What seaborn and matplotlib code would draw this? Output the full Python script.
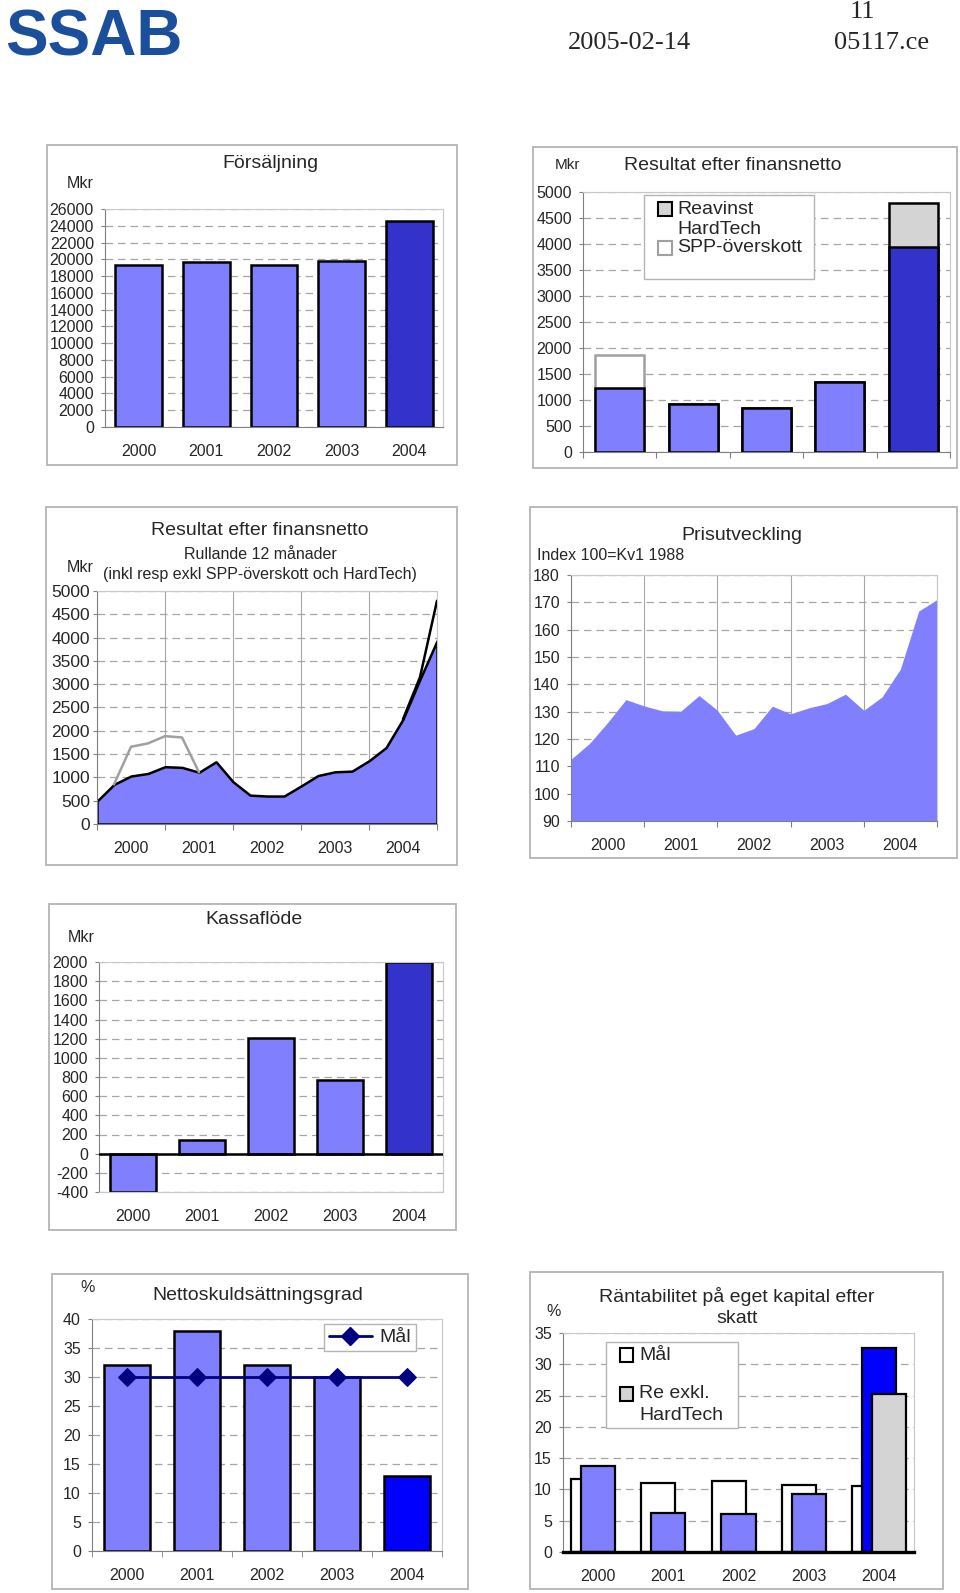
import numpy as np
import pandas as pd
import seaborn as sns
import matplotlib.pyplot as plt
from matplotlib.patches import Rectangle
from matplotlib.lines import Line2D

sns.set_style('white')
plt.rcParams['font.family'] = ['Liberation Sans', 'DejaVu Sans']
plt.rcParams['axes.unicode_minus'] = False

# data
years = ['2000', '2001', '2002', '2003', '2004']
sales = [19300, 19700, 19300, 19800, 24600]
res_base = [1230, 930, 840, 1350, 3950]
res_spp = [640, 0, 0, 0, 0]
res_hardtech = [0, 0, 0, 0, 830]

quarters = list(range(21))
roll_excl = [490, 850, 1030, 1085, 1230, 1215, 1110, 1335, 907, 620, 600,
             600, 815, 1040, 1120, 1135, 1357, 1640, 2250, 3107, 3930]
roll_incl = [490, 850, 1657, 1730, 1885, 1857, 1110, 1335, 907, 620, 600,
             600, 815, 1040, 1120, 1135, 1357, 1640, 2250, 3150, 4790]
price_index = [112.6, 118.3, 126.0, 134.4, 132.1, 130.3, 130.2, 135.9, 130.5,
               121.4, 123.8, 132.0, 129.2, 131.4, 133.0, 136.4, 130.5, 135.4,
               145.6, 166.8, 171.0]

cashflow = [-400, 145, 1210, 770, 2000]
gearing = [32, 38, 32, 30, 13]
gearing_target = [30, 30, 30, 30, 30]
roe_target = [11.6, 11.1, 11.3, 10.7, 10.5]
roe = [13.7, 6.3, 6.0, 9.2, 32.6]
roe_excl_ht_2004 = 25.3

LIGHT = '#8080ff'
DARK = '#3333cc'
BLUE = '#0000ff'
GREY = '#d4d4d4'
GRID = '#a6a6a6'

W, H = 960, 1593
fig = plt.figure(figsize=(W / 100, H / 100), dpi=100)


def add_ax(l, t, r, b):
    return fig.add_axes([l / W, 1 - b / H, (r - l) / W, (b - t) / H])


def ftext(x, y, s, size=14, ha='center', **kw):
    fig.text(x / W, 1 - y / H, s, fontsize=size, ha=ha, va='center', **kw)


def rect(l, t, r, b, fill=False, face='white', edge='#b4b4b4', lw=1.3, z=1):
    fig.add_artist(Rectangle((l / W, 1 - b / H), (r - l) / W, (b - t) / H,
                             transform=fig.transFigure, fill=fill, facecolor=face,
                             edgecolor=edge, lw=lw, zorder=z))


def style(ax, lo, hi, step, size=11.5, pad=5):
    ticks = np.arange(lo, hi + step / 2, step)
    ax.set_ylim(lo, hi)
    ax.set_yticks(ticks, labels=[str(int(t)) for t in ticks])
    ax.yaxis.grid(True, color=GRID, linestyle=(0, (6, 4)), linewidth=0.9)
    ax.set_axisbelow(True)
    for s in ['top', 'right']:
        ax.spines[s].set_color('#c8c8c8')
    for s in ['left', 'bottom']:
        ax.spines[s].set_color('#808080')
    ax.tick_params(axis='y', left=True, direction='out', length=3, width=0.8,
                   color='#808080', pad=pad, labelsize=size)
    ax.set_xlabel('')
    ax.set_ylabel('')


# header
ftext(5, 39, 'SSAB', size=46, ha='left', color='#1b4f9c', fontweight='bold')
ftext(629, 43, '2005-02-14', size=19, family=['Liberation Serif', 'DejaVu Serif'])
ftext(862, 12, '11', size=19, family=['Liberation Serif', 'DejaVu Serif'])
ftext(882, 43, '05117.ce', size=19, family=['Liberation Serif', 'DejaVu Serif'])

pal5 = [LIGHT] * 4 + [DARK]

# 1. Försäljning
rect(47, 145, 457, 465)
ax1 = add_ax(105, 209, 443, 427)
df1 = pd.DataFrame({'year': years, 'value': sales})
sns.barplot(data=df1, x='year', y='value', hue='year', palette=pal5, legend=False,
            width=0.69, saturation=1, edgecolor='black', linewidth=1.8, ax=ax1)
style(ax1, 0, 26000, 2000)
ax1.set_xlim(-0.5, 4.5)
ax1.tick_params(axis='x', length=0, pad=12, labelsize=11.5)
ftext(270, 163, 'Försäljning')
ftext(80, 183, 'Mkr', size=11.5)

# 2. Resultat efter finansnetto (bars)
rect(533, 147, 957, 468)
ax2 = add_ax(583, 192, 950, 452)
totals = [b + s + h for b, s, h in zip(res_base, res_spp, res_hardtech)]
sns.barplot(x=years, y=totals, color='white', width=0.67, saturation=1,
            edgecolor='black', linewidth=1.8, ax=ax2)
for p, s, h in zip(ax2.patches, res_spp, res_hardtech):
    if s > 0:
        p.set_facecolor('white')
        p.set_edgecolor('#a0a0a0')
    elif h > 0:
        p.set_facecolor(GREY)
sns.barplot(x=years, y=res_base, hue=years, palette=pal5, legend=False, width=0.67,
            saturation=1, edgecolor='black', linewidth=1.8, ax=ax2)
style(ax2, 0, 5000, 500)
ax2.set_xlim(-0.5, 4.5)
ax2.set_xticks(np.arange(-0.5, 5, 1), labels=[])
ax2.tick_params(axis='x', bottom=True, direction='out', length=4, color='#808080')
ftext(733, 165, 'Resultat efter finansnetto')
ftext(567, 165, 'Mkr', size=11)
# legend box, Excel style
rect(644, 195, 814, 279, fill=True, lw=1.0, z=5)
rect(658, 202, 672, 216, fill=True, face=GREY, edge='black', lw=1.5, z=6)
rect(658, 241, 672, 255, fill=True, face='white', edge='#a0a0a0', lw=1.5, z=6)
for y, s in [(209, 'Reavinst'), (230, 'HardTech'), (248, 'SPP-överskott')]:
    ftext(677, y, s, ha='left', zorder=7)


def quarter_axis(ax):
    ax.set_xlim(0, 20)
    ax.set_xticks([0, 4, 8, 12, 16, 20], labels=[])
    ax.set_xticks([2, 6, 10, 14, 18], labels=years, minor=True)
    ax.xaxis.grid(True, which='major', color=GRID, linestyle='-', linewidth=0.8)
    ax.tick_params(axis='x', which='major', bottom=True, direction='out', length=4,
                   color='#808080')
    ax.tick_params(axis='x', which='minor', bottom=True, length=0, pad=12, labelsize=11.5)


# 3. Resultat efter finansnetto, rullande 12 månader
rect(46, 507, 457, 865)
ax3 = add_ax(97, 591, 437, 824)
ax3.fill_between(quarters, roll_excl, color=LIGHT, edgecolor='black', linewidth=1.8, zorder=2)
sns.lineplot(x=quarters[1:7], y=roll_incl[1:7], color='#a0a0a0', lw=1.8, ax=ax3, zorder=3)
sns.lineplot(x=quarters[18:], y=roll_incl[18:], color='black', lw=1.8, ax=ax3, zorder=3)
style(ax3, 0, 5000, 500, size=12.5, pad=2)
quarter_axis(ax3)
ftext(260, 531, 'Resultat efter finansnetto')
ftext(260, 554, 'Rullande 12 månader', size=11.5)
ftext(260, 574, '(inkl resp exkl SPP-överskott och HardTech)', size=11.5)
ftext(80, 568, 'Mkr', size=11.5)

# 4. Prisutveckling
rect(530, 507, 957, 858)
ax4 = add_ax(571, 575, 937, 821)
ax4.fill_between(quarters, price_index, 90, color=LIGHT, linewidth=0, zorder=2)
style(ax4, 90, 180, 10)
quarter_axis(ax4)
ftext(742, 535, 'Prisutveckling')
ftext(537, 555, 'Index 100=Kv1 1988', size=11.5, ha='left')

# 5. Kassaflöde
rect(49, 904, 456, 1230)
ax5 = add_ax(99, 962, 443, 1192)
sns.barplot(x=years, y=cashflow, hue=years, palette=pal5, legend=False, width=0.67,
            saturation=1, edgecolor='black', linewidth=1.8, ax=ax5)
style(ax5, -400, 2000, 200)
ax5.spines['bottom'].set_color('#c8c8c8')
ax5.axhline(0, color='black', lw=1.8, zorder=3)
ax5.set_xlim(-0.5, 4.5)
ax5.tick_params(axis='x', length=0, pad=12, labelsize=11.5)
ftext(254, 920, 'Kassaflöde')
ftext(81, 937, 'Mkr', size=11.5)

# 6. Nettoskuldsättningsgrad
rect(52, 1274, 468, 1589)
ax6 = add_ax(92, 1319, 442, 1551)
sns.barplot(x=years, y=gearing, hue=years, palette=[LIGHT] * 4 + [BLUE], legend=False,
            width=0.67, saturation=1, edgecolor='black', linewidth=1.8, ax=ax6)
sns.lineplot(x=np.arange(5), y=gearing_target, color='#000080', lw=2, marker='D',
             markersize=9, markeredgecolor='#000080', ax=ax6, zorder=4)
style(ax6, 0, 40, 5)
ax6.set_xlim(-0.5, 4.5)
ax6.set_xticks(np.arange(-0.5, 5, 1), minor=True)
ax6.tick_params(axis='x', which='major', length=0, pad=12, labelsize=11.5)
ax6.tick_params(axis='x', which='minor', bottom=True, direction='out', length=4,
                color='#808080')
lg = ax6.legend(handles=[Line2D([], [], color='#000080', lw=2, marker='D', markersize=9,
                                label='Mål')],
                loc='upper left', bbox_to_anchor=(324 / W, 1 - 1324 / H),
                bbox_transform=fig.transFigure, fontsize=14, frameon=True, fancybox=False,
                framealpha=1, edgecolor='#b4b4b4', borderaxespad=0, handlelength=2.2,
                handletextpad=0.4, borderpad=0.25)
lg.get_frame().set_linewidth(1.0)
ftext(88, 1287, '%', size=11.5)
ftext(258, 1296, 'Nettoskuldsättningsgrad')

# 7. Räntabilitet på eget kapital efter skatt
rect(530, 1272, 943, 1589)
ax7 = add_ax(563, 1333, 914, 1552)
off, bw = 0.142, 0.485
ax7.bar(np.arange(5) - off, roe_target, width=bw, facecolor='white',
        edgecolor='black', linewidth=1.6, zorder=0.8)
sns.barplot(x=years, y=roe, hue=years, palette=[LIGHT] * 4 + [BLUE], legend=False,
            width=bw, saturation=1, edgecolor='black', linewidth=1.6, ax=ax7)
ax7.bar([4 + off], [roe_excl_ht_2004], width=bw, facecolor=GREY,
        edgecolor='black', linewidth=1.6, zorder=3)
style(ax7, 0, 35, 5)
ax7.spines['bottom'].set_color('black')
ax7.spines['bottom'].set_linewidth(2.4)
ax7.set_xlim(-0.5, 4.5)
ax7.tick_params(axis='x', length=0, pad=12, labelsize=11.5)
ftext(737, 1307, 'Räntabilitet på eget kapital efter\nskatt', linespacing=1.3)
ftext(554, 1312, '%', size=11.5)
# legend box, Excel style
rect(606, 1342, 738, 1428, fill=True, lw=1.0, z=5)
rect(620, 1348, 633, 1362, fill=True, face='white', edge='black', lw=1.5, z=6)
rect(620, 1387, 633, 1401, fill=True, face=GREY, edge='black', lw=1.5, z=6)
for y, s in [(1355, 'Mål'), (1394, 'Re exkl.'), (1416, 'HardTech')]:
    ftext(639, y, s, ha='left', zorder=7)

fig.savefig('out.png', dpi=100)
